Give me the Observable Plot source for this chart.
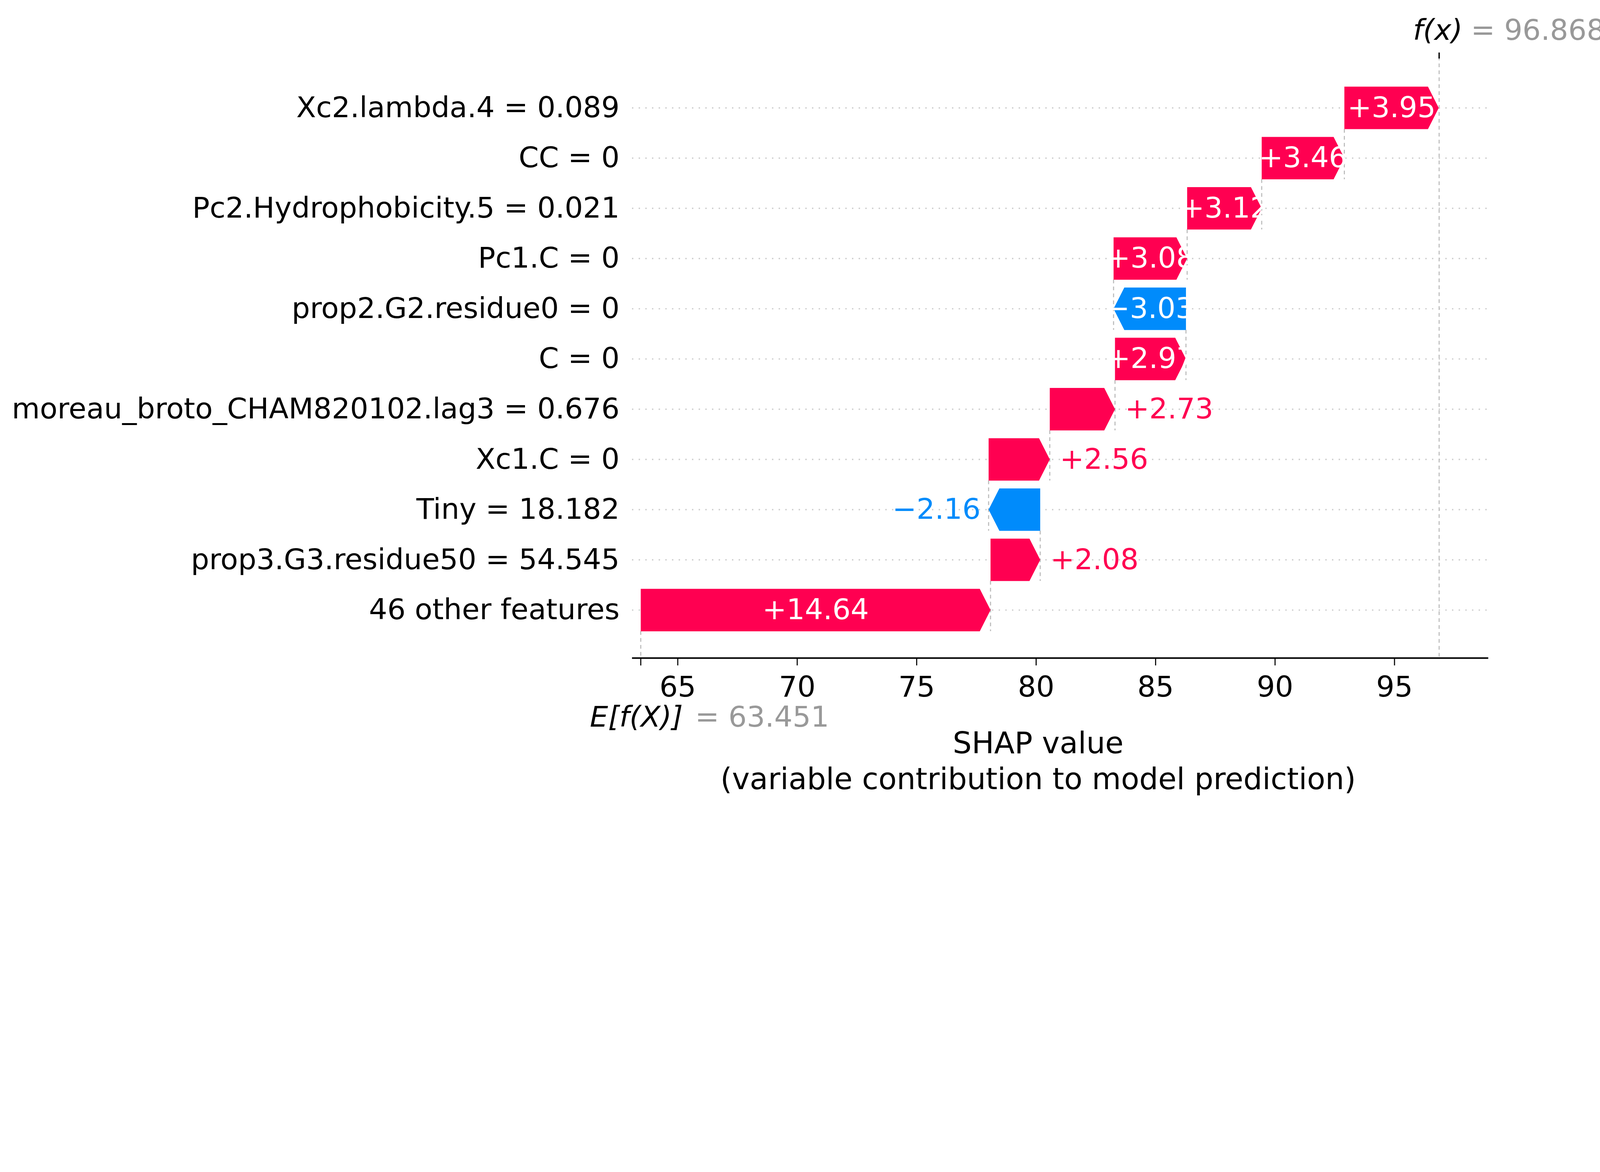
<!DOCTYPE html>
<html>
<head>
<meta charset="utf-8">
<script src="https://cdn.jsdelivr.net/npm/d3@7"></script>
<script src="https://cdn.jsdelivr.net/npm/@observablehq/plot@0.6"></script>
<style>
  html, body { margin: 0; background: white; overflow: hidden; }
  #chart svg { display: block; }
</style>
</head>
<body>
<div id="chart"></div>
<script>
const features = [
  "Xc2.lambda.4 = 0.089",
  "CC = 0",
  "Pc2.Hydrophobicity.5 = 0.021",
  "Pc1.C = 0",
  "prop2.G2.residue0 = 0",
  "C = 0",
  "moreau_broto_CHAM820102.lag3 = 0.676",
  "Xc1.C = 0",
  "Tiny = 18.182",
  "prop3.G3.residue50 = 54.545",
  "46 other features"
];
const shapValues = [3.95, 3.46, 3.12, 3.08, -3.03, 2.97, 2.73, 2.56, -2.16, 2.08, 14.64];
const baseValue = 63.451;
const fxValue = 96.868;
const xTicks = [65, 70, 75, 80, 85, 90, 95];

const pink = "#ff0051", blue = "#008bfb";
const h = 0.4225;     // half bar height, row units
const head = 0.45;    // arrow head length, x units
const axisY = 10.956; // y position of the x axis
const fs = 108;

// cumulative positions, from the bottom row upward
const n = features.length;
const starts = new Array(n), ends = new Array(n);
let cur = baseValue;
for (let i = n - 1; i >= 0; i--) {
  starts[i] = cur;
  ends[i] = cur + shapValues[i];
  cur = ends[i];
}

const rows = features.map((f, i) => ({i, f, v: shapValues[i], s: starts[i], e: ends[i]}));

function arrow(r) {
  const {i, s, e, v} = r;
  const L = v > 0 ? -head : head;
  const pts = [[s, i - h], [e + L, i - h], [e, i], [e + L, i + h], [s, i + h], [s, i - h]];
  return pts.map(([x, y]) => ({id: i, x, y}));
}
const posPts = rows.filter(r => r.v > 0).flatMap(arrow);
const negPts = rows.filter(r => r.v < 0).flatMap(arrow);

const fmt = v => (v > 0 ? "+" : "\u2212") + Math.abs(v).toFixed(2);
const inside = rows.filter(r => Math.abs(r.v) > 2.8);
const outPos = rows.filter(r => Math.abs(r.v) <= 2.8 && r.v > 0);
const outNeg = rows.filter(r => Math.abs(r.v) <= 2.8 && r.v < 0);

const connectors = rows.slice(1).map(r => ({x: r.e, y1: r.i - 1 + h, y2: r.i + h}));
const dash = {stroke: "#bbbbbb", strokeWidth: 4, strokeDasharray: "14,12"};

const chart = Plot.plot({
  width: 6000,
  height: 3000,
  marginLeft: 2370,
  marginRight: 419,
  marginTop: 212,
  marginBottom: 533,
  x: {domain: [63.09, 98.93]},
  y: {domain: [-1.02, axisY], reverse: true},
  style: {fontFamily: "DejaVu Sans", fontSize: fs + "px", background: "white"},
  marks: [
    Plot.ruleY(d3.range(n), {stroke: "#cccccc", strokeWidth: 5, strokeDasharray: "5,20"}),
    Plot.ruleX(connectors, {x: "x", y1: "y1", y2: "y2", ...dash}),
    Plot.ruleX([baseValue], {y1: n - 1 + h, y2: axisY, ...dash}),
    Plot.ruleX([fxValue], {y1: -1.02, y2: axisY, ...dash}),
    Plot.line(posPts, {x: "x", y: "y", z: "id", fill: pink, stroke: "none", curve: "linear"}),
    Plot.line(negPts, {x: "x", y: "y", z: "id", fill: blue, stroke: "none", curve: "linear"}),
    Plot.text(inside, {x: r => (r.s + r.e) / 2, y: "i", text: r => fmt(r.v), fill: "white", fontSize: fs}),
    Plot.text(outPos, {x: "e", y: "i", text: r => fmt(r.v), fill: pink, textAnchor: "start", dx: 38, fontSize: fs}),
    Plot.text(outNeg, {x: "e", y: "i", text: r => fmt(r.v), fill: blue, textAnchor: "end", dx: -30, fontSize: fs}),
    Plot.axisY({ticks: d3.range(n), tickFormat: i => features[i], tickSize: 0, tickPadding: 47, fontSize: fs, fill: "black"}),
    Plot.ruleY([axisY], {stroke: "black", strokeWidth: 6}),
    Plot.axisX({ticks: xTicks, tickSize: 28, tickPadding: 40, tickFormat: d => d, fontSize: fs, strokeWidth: 4, label: null}),
    Plot.ruleX([baseValue], {y1: axisY, y2: axisY + 0.15, stroke: "black", strokeWidth: 4}),
    Plot.ruleX([fxValue], {y1: -1.1, y2: -0.98, stroke: "black", strokeWidth: 5}),
    Plot.text([fxValue], {x: d => d, y: -1.535, text: () => "f(x)", fontStyle: "italic", textAnchor: "end", dx: 88, fontSize: fs}),
    Plot.text([fxValue], {x: d => d, y: -1.535, text: d => "= " + d.toFixed(3), fill: "#999999", textAnchor: "start", dx: 119, fontSize: fs}),
    Plot.text([baseValue], {x: d => d, y: 12.14, text: () => "E[f(X)]", fontStyle: "italic", textAnchor: "end", dx: 158, fontSize: fs}),
    Plot.text([baseValue], {x: d => d, y: 12.14, text: d => "= " + d.toFixed(3), fill: "#999999", textAnchor: "start", dx: 204, fontSize: fs}),
    Plot.text(["SHAP value\n(variable contribution to model prediction)"], {
      frameAnchor: "middle", y: 12.98, dx: -83, text: d => d, fontSize: 112, lineHeight: 1.2
    })
  ]
});
document.getElementById("chart").append(chart);
</script>
</body>
</html>
